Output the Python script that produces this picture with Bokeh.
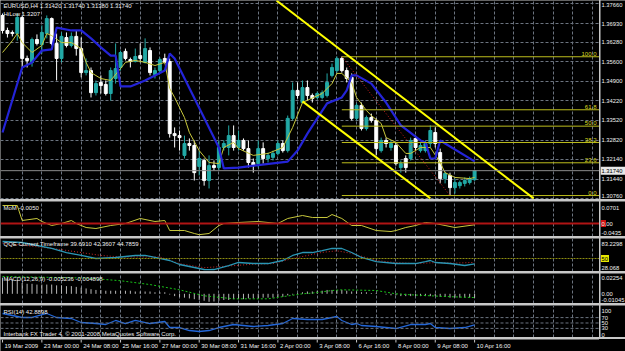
from bokeh.plotting import figure
from bokeh.layouts import column, row
from bokeh.models import Range1d, FixedTicker, Label, ColumnDataSource, Spacer, Span
from bokeh.embed import file_html
from bokeh.resources import INLINE
from bokeh.core.properties import value

# ---------------- data ----------------
bar_idx = list(range(97))
opens = [1.3723,1.3670,1.3663,1.3659,1.3716,1.3571,1.3557,1.3638,1.3620,1.3659,
         1.3712,1.3624,1.3571,1.3645,1.3617,1.3649,1.3606,1.3521,1.3528,1.3450,
         1.3486,1.3479,1.3447,1.3500,1.3539,1.3596,1.3567,1.3560,1.3581,1.3557,
         1.3599,1.3514,1.3528,1.3571,1.3560,1.3305,1.3298,1.3228,1.3270,1.3263,
         1.3189,1.3210,1.3139,1.3192,1.3185,1.3256,1.3256,1.3298,1.3256,1.3281,
         1.3252,1.3203,1.3199,1.3252,1.3217,1.3221,1.3235,1.3270,1.3245,1.3359,
         1.3458,1.3415,1.3468,1.3440,1.3433,1.3433,1.3440,1.3511,1.3528,1.3571,
         1.3528,1.3504,1.3359,1.3405,1.3323,1.3362,1.3352,1.3245,1.3281,1.3256,
         1.3263,1.3185,1.3217,1.3217,1.3288,1.3245,1.3245,1.3270,1.3309,1.3238,
         1.3146,1.3157,1.3114,1.3121,1.3129,1.3132,1.3142]
highs = [1.3730,1.3680,1.3670,1.3730,1.3723,1.3581,1.3645,1.3656,1.3688,1.3723,
         1.3716,1.3659,1.3663,1.3663,1.3663,1.3670,1.3645,1.3571,1.3539,1.3493,
         1.3511,1.3493,1.3539,1.3624,1.3599,1.3606,1.3574,1.3606,1.3624,1.3642,
         1.3610,1.3539,1.3574,1.3588,1.3571,1.3327,1.3316,1.3298,1.3288,1.3281,
         1.3245,1.3217,1.3228,1.3210,1.3281,1.3281,1.3334,1.3334,1.3316,1.3288,
         1.3281,1.3217,1.3281,1.3274,1.3238,1.3245,1.3281,1.3281,1.3369,1.3486,
         1.3486,1.3493,1.3493,1.3447,1.3454,1.3458,1.3518,1.3553,1.3578,1.3578,
         1.3539,1.3518,1.3412,1.3415,1.3369,1.3376,1.3359,1.3291,1.3291,1.3281,
         1.3274,1.3210,1.3228,1.3291,1.3298,1.3274,1.3281,1.3334,1.3327,1.3252,
         1.3171,1.3167,1.3146,1.3139,1.3150,1.3153,1.3174]
lows = [1.3659,1.3645,1.3649,1.3634,1.3539,1.3539,1.3542,1.3617,1.3588,1.3642,
        1.3617,1.3493,1.3557,1.3610,1.3610,1.3581,1.3504,1.3511,1.3433,1.3440,
        1.3447,1.3440,1.3422,1.3482,1.3528,1.3564,1.3539,1.3557,1.3557,1.3553,
        1.3511,1.3500,1.3521,1.3553,1.3291,1.3256,1.3245,1.3217,1.3245,1.3139,
        1.3157,1.3121,1.3111,1.3175,1.3175,1.3245,1.3228,1.3245,1.3245,1.3245,
        1.3185,1.3167,1.3185,1.3199,1.3203,1.3210,1.3228,1.3238,1.3238,1.3352,
        1.3429,1.3412,1.3422,1.3415,1.3426,1.3426,1.3433,1.3504,1.3521,1.3521,
        1.3486,1.3352,1.3352,1.3316,1.3316,1.3344,1.3228,1.3238,1.3256,1.3245,
        1.3192,1.3167,1.3167,1.3210,1.3245,1.3238,1.3238,1.3256,1.3256,1.3129,
        1.3129,1.3086,1.3093,1.3111,1.3118,1.3125,1.3138]
closes = [1.3670,1.3659,1.3659,1.3716,1.3571,1.3564,1.3638,1.3624,1.3663,1.3712,
          1.3624,1.3571,1.3649,1.3617,1.3649,1.3606,1.3521,1.3528,1.3450,1.3482,
          1.3475,1.3447,1.3528,1.3535,1.3592,1.3571,1.3560,1.3578,1.3571,1.3606,
          1.3521,1.3528,1.3567,1.3557,1.3305,1.3298,1.3291,1.3270,1.3263,1.3167,
          1.3217,1.3139,1.3192,1.3185,1.3256,1.3270,1.3298,1.3256,1.3281,1.3252,
          1.3203,1.3192,1.3252,1.3217,1.3228,1.3235,1.3270,1.3245,1.3359,1.3458,
          1.3440,1.3468,1.3440,1.3429,1.3447,1.3450,1.3486,1.3539,1.3571,1.3528,
          1.3500,1.3359,1.3405,1.3323,1.3362,1.3352,1.3252,1.3281,1.3270,1.3270,
          1.3199,1.3199,1.3185,1.3281,1.3256,1.3263,1.3270,1.3316,1.3270,1.3146,
          1.3164,1.3114,1.3132,1.3132,1.3139,1.3146,1.3174]

ma_idx = [0,2,3,4,6,8,9,10,12,14,16,17,18,20,22,24,25,27,29,31,33,34,35,37,38,40,42,44,45,47,
          48,51,54,57,59,61,65,67,68,69,71,72,74,75,77,78,80,82,83,85,87,89,90,92,95,96]
ma_val = [1.3592,1.3634,1.3659,1.3627,1.3592,1.3617,1.3659,1.3652,1.3627,1.3627,
          1.3606,1.3557,1.3521,1.3500,1.3493,1.3535,1.3557,1.3564,1.3557,1.3546,
          1.3557,1.3465,1.3433,1.3362,1.3309,1.3245,1.3203,1.3199,1.3256,1.3274,
          1.3252,1.3228,1.3235,1.3256,1.3327,1.3415,1.3447,1.3482,1.3518,1.3518,
          1.3486,1.3433,1.3387,1.3369,1.3341,1.3291,1.3274,1.3235,1.3235,1.3256,
          1.3256,1.3203,1.3167,1.3150,1.3146,1.3150]

hilo_idx = [0,4,6,8,10,11,14,16,18,20,22,23,24,26,29,33,34,35,44,45,
            48,58,60,62,64,66,69,70,71,72,75,78,81,85,86,87,88,89,90,96]
hilo_val = [1.3309,1.3539,1.3557,1.3599,1.3603,1.3680,1.3670,1.3670,1.3642,1.3610,
            1.3581,1.3581,1.3472,1.3472,1.3493,1.3528,1.3588,1.3571,1.3256,1.3182,
            1.3185,1.3206,1.3245,1.3305,1.3359,1.3412,1.3433,1.3458,1.3511,1.3511,
            1.3482,1.3415,1.3334,1.3281,1.3274,1.3217,1.3217,1.3281,1.3270,1.3207]

fib_start_idx = 69
fib_end_idx = 91
fib_high = 1.3577
fib_low = 1.3086
fib_levels = [0.0, 23.6, 38.2, 50.0, 61.8, 100.0]

chan_up_idx = [55.7, 108.0]
chan_up_val = [1.3776, 1.3076]
chan_lo_idx = [61.0, 87.0]
chan_lo_val = [1.3419, 1.3076]

price_ticks = [1.37660, 1.36930, 1.36280, 1.35600, 1.34900, 1.34220,
               1.33520, 1.32820, 1.32140, 1.31440, 1.30760]
price_labels = ["1.37660", "1.36930", "1.36280", "1.35600", "1.34900", "1.34220",
                "1.33520", "1.32820", "1.32140", "1.31440", "1.30760"]

mom_idx = [0,3,4,7,8,10,12,14,15,17,19,22,25,28,31,33,34,37,39,40,42,44,45,48,52,56,58,61,63,66,
           67,69,71,73,76,79,80,82,84,86,88,90,92,96]
mom_val = [0.0701,0.0701,0.0117,0.0195,0.0078,-0.0078,0.0,0.0117,0.0,-0.0156,
           -0.0195,-0.0078,0.0,0.0195,0.0078,0.0117,-0.0273,-0.0273,-0.0389,-0.0435,
           -0.0389,-0.0078,0.0,0.0039,0.0078,0.0,0.0195,0.0312,0.0234,0.0234,
           0.0350,0.0195,-0.0078,-0.0078,-0.0273,-0.0312,-0.0273,-0.0156,-0.0078,0.0039,
           0.0,-0.0078,-0.0156,-0.0050]
mom_ticks = [0.0701, 0.0, -0.0435]
mom_labels = ["0.0701", "0.00", "-0.0435"]

qqe_idx = [0,4,7,10,13,16,19,23,27,29,31,34,36,39,41,42,43,46,48,51,
           54,57,59,61,63,65,67,69,71,73,76,80,84,86,87,88,91,94,96]
qqe_val = [83.23,81.3,75.4,69.6,61.7,55.9,50.0,52.0,55.9,55.9,
           52.0,46.1,38.3,32.4,28.5,28.07,28.5,36.3,42.2,40.2,
           40.2,46.1,55.9,61.7,61.7,65.6,69.6,69.6,61.7,52.0,
           44.1,40.2,40.2,44.1,46.1,42.2,40.2,36.3,39.69]
qqe_slow_idx = [0,10,20,24,32,36,41,47,51,55,59,65,68,71,76,80,84,88,92,96]
qqe_slow_val = [80.0,70.0,56.0,53.0,53.0,40.0,32.0,36.0,39.0,40.0,
                50.0,62.0,65.0,60.0,46.0,42.0,40.0,42.0,41.0,42.36]
qqe_ticks = [83.2298, 50, 28.068]
qqe_labels = ["83.2298", "50", "28.068"]

macd_hist = [0.021,0.020,0.019,0.018,
             0.014,0.013,0.013,0.012,0.012,0.012,
             0.012,0.011,0.011,0.010,0.010,0.009,
             0.008,0.007,0.006,0.005,0.005,
             0.004,0.004,0.004,0.004,0.004,
             0.004,0.003,0.003,0.003,0.003,
             0.002,0.002,0.002,-0.001,-0.003,
             -0.004,-0.005,-0.006,-0.007,-0.008,
             -0.009,-0.0104,-0.010,-0.009,-0.008,
             -0.008,-0.007,-0.007,-0.007,-0.006,
             -0.006,-0.006,-0.005,-0.005,-0.005,
             -0.004,-0.004,-0.002,-0.001,0.001,
             0.002,0.003,0.003,0.004,0.004,
             0.005,0.005,0.005,0.005,0.004,
             0.003,0.003,0.002,0.002,0.001,
             0.001,0.000,-0.001,-0.002,-0.002,
             -0.003,-0.003,-0.003,-0.003,-0.003,
             -0.003,-0.003,-0.003,-0.004,-0.004,
             -0.005,-0.005,-0.005,-0.005,-0.005,-0.0052]
sig_idx = [0,17,24,30,36,41,47,54,61,63,67,69,76,80,83,90,96]
sig_val = [0.0225,0.0205,0.0170,0.0120,0.0052,-0.0026,-0.0065,-0.0065,0.0000,
           0.0009,0.0043,0.0052,0.0043,0.0000,-0.0013,-0.0035,-0.0049]
macd_ticks = [0.02254, 0.0, -0.01045]
macd_labels = ["0.02254", "0.00", "-0.01045"]

rsi_idx = [0,4,6,9,11,14,16,19,21,23,25,27,30,33,34,36,38,40,42,44,
           47,51,54,57,59,62,65,68,69,71,72,73,76,78,80,83,86,87,88,91,94,96]
rsi_val = [85.2,70.4,70.4,85.2,70.4,66.7,51.9,48.1,44.4,59.3,
           48.1,59.3,48.1,55.6,33.3,33.3,22.2,18.5,22.2,33.3,
           44.4,37.0,40.7,48.1,66.7,63.0,63.0,74.1,59.3,44.4,
           48.1,40.7,37.0,33.3,29.6,44.4,44.4,48.1,33.3,29.6,33.3,42.89]
rsi_ticks = [100, 70, 50, 30, 0]
rsi_labels = ["100", "70", "50", "30", "0"]
rsi_levels = [70, 50, 30]

time_idx = [0, 8, 16, 24, 32, 40, 48, 56, 64, 72, 80, 88, 96]
time_labels = ["19 Mar 2009", "23 Mar 00:00", "24 Mar 08:00", "25 Mar 16:00",
               "27 Mar 00:00", "30 Mar 08:00", "31 Mar 16:00", "2 Apr 00:00",
               "3 Apr 08:00", "6 Apr 16:00", "8 Apr 00:00", "9 Apr 08:00", "10 Apr 16:00"]
vgrid_ticks = list(range(4, 124, 4))

# ---------------- style ----------------
FONT = "Liberation Sans"
FS = "6px"
AFS = "5.8px"
BG = "#000000"
SEP = "#c8c8c8"
GRIDC = "#6c7480"
TXT = "#f0f0f0"
BULL = "#22a9a6"
BEAR = "#ffffff"
CW = 599
AW = 25

x_range = Range1d(-0.41, 121.4)


def panel(h, yr):
    p = figure(width=CW, height=h, x_range=x_range, y_range=yr, output_backend="svg",
               toolbar_location=None, title=None, x_axis_location=None, y_axis_location=None,
               min_border=0, background_fill_color=BG, border_fill_color=BG,
               outline_line_color=None)
    p.xgrid.ticker = FixedTicker(ticks=vgrid_ticks)
    p.xgrid.grid_line_color = GRIDC
    p.xgrid.grid_line_dash = "3 2"
    p.ygrid.visible = False
    return p


LABEL_ARGS = dict(text_font=value(FONT), text_font_size=AFS, text_align="left")


def axis_fig(h, yr, ticks, labels, colors=None):
    a = figure(width=AW, height=h, x_range=Range1d(0, AW), y_range=yr, output_backend="svg",
               toolbar_location=None, title=None, x_axis_location=None, y_axis_location=None,
               min_border=0, background_fill_color=BG, border_fill_color=BG,
               outline_line_color=None)
    a.xgrid.visible = False
    a.ygrid.visible = False
    n = len(ticks)
    base = ["top"] + ["middle"] * (n - 2) + ["bottom"]
    src = ColumnDataSource(dict(y=ticks, t=labels, b=base,
                                c=colors if colors else [TXT] * n))
    return a, src


def draw_labels(a, src):
    a.text(x=1, y="y", text="t", source=src, text_color="c", text_baseline="b", **LABEL_ARGS)


def title(p, h, txt, top):
    p.add_layout(Label(x=3, y=h - top, x_units="screen", y_units="screen", text=txt,
                       text_font=FONT, text_font_size=FS, text_color=TXT,
                       text_baseline="middle"))


# ---------------- main chart ----------------
H_MAIN = 199
yr_main = Range1d(1.3072, 1.3776)
main = panel(H_MAIN, yr_main)
main.ygrid.visible = True
main.ygrid.ticker = FixedTicker(ticks=price_ticks)
main.ygrid.grid_line_color = GRIDC
main.ygrid.grid_line_dash = "3 2"

main.add_layout(Span(location=closes[-1], dimension="width", line_color="#8a8a8a", line_width=1))

is_bull = [c >= o for o, c in zip(opens, closes)]
src = ColumnDataSource(dict(
    x=bar_idx, o=opens, h=highs, l=lows, c=closes,
    top=[max(o, c) for o, c in zip(opens, closes)],
    bot=[min(o, c) for o, c in zip(opens, closes)],
    col=[BULL if b else BEAR for b in is_bull]))
main.segment(x0="x", y0="l", x1="x", y1="h", source=src, line_color="col", line_width=1)
main.vbar(x="x", width=0.6, top="top", bottom="bot", source=src, fill_color="col",
          line_color="col", line_width=1)

main.line(ma_idx, ma_val, line_color="#c8c83c", line_width=1)
main.line(hilo_idx, hilo_val, line_color="#2424d8", line_width=2.2)

fib_prices = [fib_low + lv / 100.0 * (fib_high - fib_low) for lv in fib_levels]
main.ray(x=[fib_start_idx] * len(fib_prices), y=fib_prices, length=0, angle=0,
         line_color="#bcbc1c", line_width=1)
main.text(x=[x_range.end] * len(fib_prices), y=fib_prices,
          text=["%.1f" % lv for lv in fib_levels], text_font=value(FONT), text_font_size=FS,
          text_color="#d8d820", text_align="right", text_baseline="bottom", x_offset=-3,
          y_offset=-1)
main.line([fib_start_idx, fib_end_idx], [fib_high, fib_low], line_color="#d02020",
          line_dash="1 2", line_width=1)
main.line(chan_up_idx, chan_up_val, line_color="#ffff00", line_width=2)
main.line(chan_lo_idx, chan_lo_val, line_color="#ffff00", line_width=2)

title(main, H_MAIN, "EURUSD,H4  1.31420 1.31740 1.31380 1.31740", 5)
title(main, H_MAIN, "HiLow 1.3207", 13)

main_ax, main_src = axis_fig(H_MAIN, yr_main, price_ticks, price_labels)
draw_labels(main_ax, main_src)
main_ax.rect(x=AW / 2, y=closes[-1], width=AW, height=8, height_units="screen",
             fill_color="#e8e8e8", line_color=None)
main_ax.text(x=1, y=[closes[-1]], text=["%.5f" % closes[-1]], text_color="#000000",
             text_baseline="middle", **LABEL_ARGS)

# ---------------- momentum ----------------
H_MOM = 35
yr_mom = Range1d(-0.0506, 0.0857)
mom = panel(H_MOM, yr_mom)
mom.add_layout(Span(location=0, dimension="width", line_color="#b01414", line_width=2))
mom.line(mom_idx, mom_val, line_color="#c8c83c", line_width=1)
title(mom, H_MOM, "MoM -0.0050", 6)
mom_ax, mom_src = axis_fig(H_MOM, yr_mom, mom_ticks, mom_labels)
mom_ax.rect(x=3, y=0, width=5, height=7, height_units="screen", fill_color="#d01010",
            line_color=None)
draw_labels(mom_ax, mom_src)

# ---------------- QQE ----------------
H_QQE = 33
yr_qqe = Range1d(24.6, 89.1)
qqe = panel(H_QQE, yr_qqe)
qqe.add_layout(Span(location=50, dimension="width", line_color="#8c8c10", line_width=1,
                    line_dash="2 1"))
qqe.line(qqe_slow_idx, qqe_slow_val, line_color="#c82828", line_dash="1 2", line_width=1)
qqe.line(qqe_idx, qqe_val, line_color="#2a96b4", line_width=1.3)
title(qqe, H_QQE, "QQE Current Timeframe 39.6910 42.3607 44.7859", 5)
qqe_ax, qqe_src = axis_fig(H_QQE, yr_qqe, qqe_ticks, qqe_labels,
                           colors=[TXT, "#000000", TXT])
qqe_ax.rect(x=4.5, y=50, width=8, height=7, height_units="screen", fill_color="#e6e600",
            line_color=None)
draw_labels(qqe_ax, qqe_src)

# ---------------- MACD ----------------
H_MACD = 30
yr_macd = Range1d(-0.0126, 0.0264)
macd = panel(H_MACD, yr_macd)
macd.segment(x0=bar_idx, y0=[0.0] * len(bar_idx), x1=bar_idx, y1=macd_hist,
             line_color="#b8b8b8", line_width=1)
macd.line(sig_idx, sig_val, line_color="#18c018", line_dash="2 2", line_width=1)
title(macd, H_MACD, "MACD(12,26,9) -0.005236 -0.004898", 5)
macd_ax, macd_src = axis_fig(H_MACD, yr_macd, macd_ticks, macd_labels)
draw_labels(macd_ax, macd_src)

# ---------------- RSI ----------------
H_RSI = 32
yr_rsi = Range1d(-3.7, 114.8)
rsi = panel(H_RSI, yr_rsi)
for lv in rsi_levels:
    rsi.add_layout(Span(location=lv, dimension="width", line_color=GRIDC, line_width=1,
                        line_dash="3 2"))
rsi.line(rsi_idx, rsi_val, line_color="#2266d8", line_width=1.3)
title(rsi, H_RSI, "RSI(14) 42.8898", 6)
title(rsi, H_RSI, "Interbank FX Trader 4, \u00a9 2001-2008 MetaQuotes Software Corp.", 28)
rsi_ax, rsi_src = axis_fig(H_RSI, yr_rsi, rsi_ticks, rsi_labels)
draw_labels(rsi_ax, rsi_src)

# ---------------- time axis ----------------
H_T = 12
tfig = figure(width=CW, height=H_T, x_range=x_range, y_range=Range1d(0, H_T),
              output_backend="svg", toolbar_location=None, title=None,
              x_axis_location=None, y_axis_location=None, min_border=0,
              background_fill_color=BG, border_fill_color=BG, outline_line_color=None)
tfig.xgrid.visible = False
tfig.ygrid.visible = False
tfig.segment(x0=time_idx, y0=[H_T] * len(time_idx), x1=time_idx, y1=[H_T - 3] * len(time_idx),
             line_color=SEP, line_width=1)
tfig.text(x=time_idx, y=[H_T / 2] * len(time_idx), text=time_labels, text_font=value(FONT),
          text_font_size=FS, text_color=TXT, text_baseline="middle", text_align="left",
          x_offset=2)

sep = {"background-color": SEP}
layout = column(
    row(main, main_ax, spacing=1, styles=sep),
    row(mom, mom_ax, spacing=1, styles=sep),
    row(qqe, qqe_ax, spacing=1, styles=sep),
    row(macd, macd_ax, spacing=1, styles=sep),
    row(rsi, rsi_ax, spacing=1, styles=sep),
    row(tfig, Spacer(width=625 - CW, height=H_T, styles={"background-color": BG})),
    spacing=2, styles=sep)

open("out.html", "w").write(file_html(layout, INLINE))
